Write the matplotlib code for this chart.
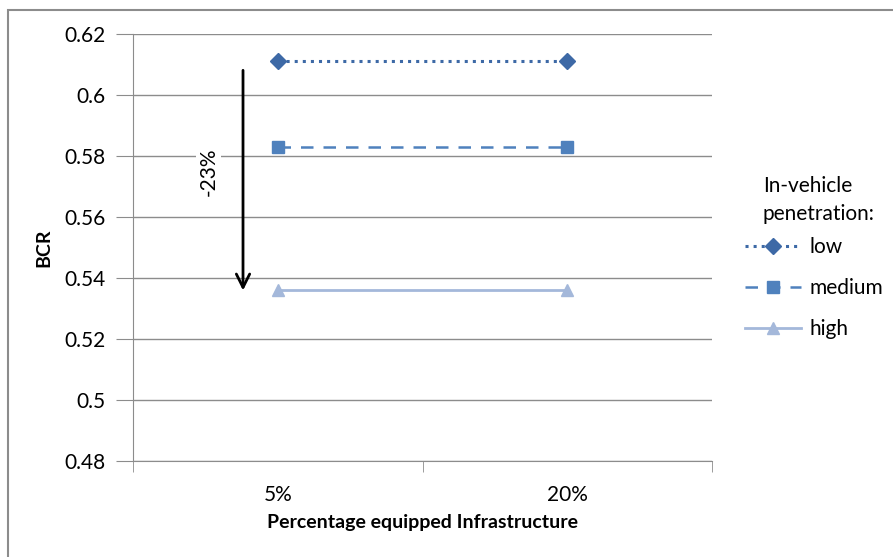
import matplotlib.pyplot as plt
from matplotlib.patches import Rectangle

# chart data
categories = ['5%', '20%']
low = [0.611, 0.611]
medium = [0.583, 0.583]
high = [0.536, 0.536]
series_names = ['low', 'medium', 'high']
arrow_start = 0.609
arrow_end = 0.535
arrow_label = '-23%'

plt.rcParams['font.family'] = ['Lato', 'DejaVu Sans']

fig = plt.figure(figsize=(8.93, 5.57), dpi=100)
ax = fig.add_axes([133 / 893, 1 - 461 / 557, (712 - 133) / 893, (461 - 34) / 557])

# outer frame like the spreadsheet chart area
fig.patches.append(Rectangle((8 / 893, -0.01), 0.995, 1 - 10 / 557 + 0.01,
                             transform=fig.transFigure, fill=False,
                             edgecolor='#8c8c8c', linewidth=1.5))

xs = list(range(len(categories)))
ax.plot(xs, low, color='#3D69A6', linestyle=':', linewidth=2.2,
        marker='D', markersize=8, label=series_names[0])
ax.plot(xs, medium, color='#4F81BD', linestyle=(0, (5, 4)), linewidth=1.8,
        marker='s', markersize=8, label=series_names[1])
ax.plot(xs, high, color='#A4B8DA', linestyle='-', linewidth=2,
        marker='^', markersize=8, label=series_names[2])

ax.set_ylim(0.48, 0.62)
ax.set_yticks([0.48 + 0.02 * i for i in range(8)])
ax.set_yticklabels(['0.48', '0.5', '0.52', '0.54', '0.56', '0.58', '0.6', '0.62'])
ax.set_xlim(-0.5, len(categories) - 0.5)
ax.set_xticks(xs)
ax.set_xticklabels(categories)
ax.set_xticks([i - 0.5 for i in range(len(categories) + 1)], minor=True)

ax.grid(axis='y', color='#8c8c8c', linewidth=1)
ax.set_axisbelow(True)
for side in ['top', 'right']:
    ax.spines[side].set_visible(False)
for side in ['left', 'bottom']:
    ax.spines[side].set_color('#8c8c8c')
ax.tick_params(axis='y', length=12, color='#8c8c8c', labelsize=15, pad=8)
ax.tick_params(axis='x', which='major', length=0, labelsize=15, pad=17)
ax.tick_params(axis='x', which='minor', length=8, color='#8c8c8c')

ax.set_ylabel('BCR', fontsize=14, fontweight='bold', labelpad=8)
ax.set_xlabel('Percentage equipped Infrastructure', fontsize=14,
              fontweight='bold', labelpad=7)

# reduction arrow and label
ax.annotate('', xy=(-0.12, arrow_end), xytext=(-0.12, arrow_start),
            arrowprops=dict(arrowstyle='->', color='black', lw=2,
                            mutation_scale=24))
ax.text(-0.24, 0.5748, arrow_label, rotation=90, ha='center', va='center',
        fontsize=15, bbox=dict(facecolor='white', edgecolor='none', pad=2))

# legend title sits indented above the entries
fig.text(763 / 893, 1 - 200 / 557, 'In-vehicle\npenetration:', fontsize=15,
         ha='left', va='center', linespacing=1.5)
leg = ax.legend(loc='center left', bbox_to_anchor=(1.057, 0.405),
                frameon=False, fontsize=15, handlelength=2.7,
                handletextpad=0.4, labelspacing=1.02, borderpad=0,
                borderaxespad=0)

fig.savefig('out.png', dpi=100)
